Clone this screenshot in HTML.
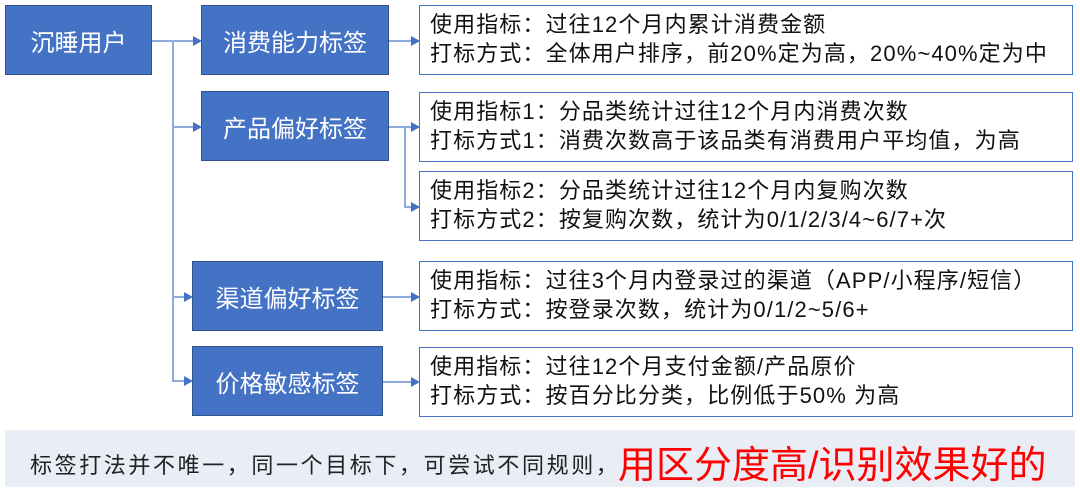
<!DOCTYPE html>
<html><head><meta charset="utf-8"><style>
body{margin:0;width:1080px;height:492px;background:#fff;position:relative;overflow:hidden;font-family:"Liberation Sans","Noto Sans CJK SC",sans-serif}
.n{position:absolute;background:#4472c4;border:1.5px solid #2f528f;color:#fff;font-size:24px;display:flex;align-items:center;justify-content:center;box-sizing:border-box}
.r{position:absolute;left:419px;width:654px;height:70px;border:1.5px solid #4472c4;box-sizing:border-box;font-size:22px;letter-spacing:1.1px;line-height:29px;padding:4px 0 0 10px;color:#111;white-space:nowrap}
.ln{position:absolute;background:#8faadc}
.ar{position:absolute;width:0;height:0;border-top:5px solid transparent;border-bottom:5px solid transparent;border-left:9px solid #4472c4}
</style></head><body>
<div class="n" style="left:5px;top:5px;width:147px;height:70px">沉睡用户</div>
<div class="n" style="left:201px;top:5px;width:188px;height:70px">消费能力标签</div>
<div class="n" style="left:201px;top:91px;width:188px;height:70px">产品偏好标签</div>
<div class="n" style="left:192px;top:261px;width:191px;height:70px">渠道偏好标签</div>
<div class="n" style="left:192px;top:346px;width:191px;height:70px">价格敏感标签</div>
<div class="r" style="top:5px">使用指标：过往12个月内累计消费金额<br>打标方式：全体用户排序，前20%定为高，20%~40%定为中</div>
<div class="r" style="top:92px">使用指标1：分品类统计过往12个月内消费次数<br>打标方式1：消费次数高于该品类有消费用户平均值，为高</div>
<div class="r" style="top:171px">使用指标2：分品类统计过往12个月内复购次数<br>打标方式2：按复购次数，统计为0/1/2/3/4~6/7+次</div>
<div class="r" style="top:261px">使用指标：过往3个月内登录过的渠道（APP/小程序/短信）<br>打标方式：按登录次数，统计为0/1/2~5/6+</div>
<div class="r" style="top:347px">使用指标：过往12个月支付金额/产品原价<br>打标方式：按百分比分类，比例低于50% 为高</div>
<div class="ln" style="left:152px;top:40px;width:42px;height:2px"></div>
<div class="ln" style="left:172px;top:40px;width:2px;height:342px"></div>
<div class="ln" style="left:172px;top:126px;width:22px;height:2px"></div>
<div class="ln" style="left:172px;top:296px;width:13px;height:2px"></div>
<div class="ln" style="left:172px;top:380px;width:13px;height:2px"></div>
<div class="ar" style="left:193px;top:36px"></div>
<div class="ar" style="left:193px;top:122px"></div>
<div class="ar" style="left:184px;top:292px"></div>
<div class="ar" style="left:184px;top:376px"></div>
<div class="ln" style="left:389px;top:40px;width:22px;height:2px"></div>
<div class="ar" style="left:411px;top:36px"></div>
<div class="ln" style="left:389px;top:126px;width:22px;height:2px"></div>
<div class="ln" style="left:404px;top:126px;width:2px;height:82px"></div>
<div class="ln" style="left:404px;top:206px;width:7px;height:2px"></div>
<div class="ar" style="left:411px;top:122px"></div>
<div class="ar" style="left:411px;top:202px"></div>
<div class="ln" style="left:383px;top:296px;width:28px;height:2px"></div>
<div class="ar" style="left:411px;top:292px"></div>
<div class="ln" style="left:383px;top:381px;width:28px;height:2px"></div>
<div class="ar" style="left:411px;top:377px"></div>
<div style="position:absolute;left:5px;top:430px;width:1070px;height:57px;background:#e9edf5"></div>
<div style="position:absolute;left:30px;top:448px;font-size:22px;letter-spacing:2.6px;color:#222;white-space:nowrap">标签打法并不唯一，同一个目标下，可尝试不同规则，</div>
<div style="position:absolute;left:618px;top:434px;font-size:38px;color:#f00;white-space:nowrap">用区分度高/识别效果好的</div>
</body></html>
